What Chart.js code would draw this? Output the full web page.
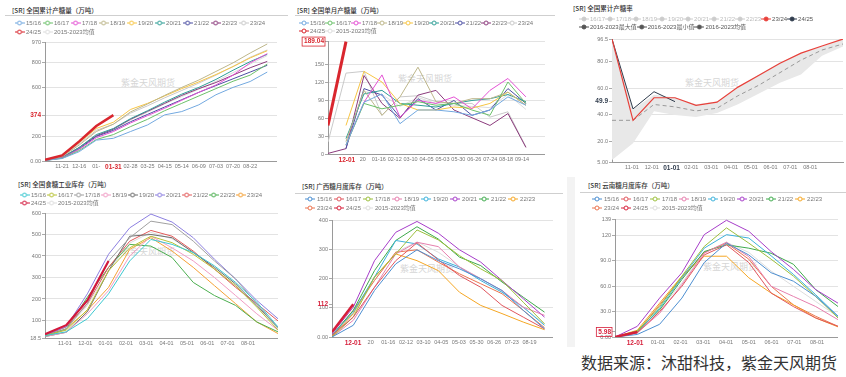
<!DOCTYPE html>
<html>
<head>
<meta charset="utf-8">
<script src="https://cdn.jsdelivr.net/npm/chart.js@4.4.1/dist/chart.umd.min.js"></script>
<style>
body{margin:0;width:846px;height:377px;position:relative;overflow:hidden;background:#fff;font-family:Arial,"Liberation Sans","Noto Sans CJK SC",sans-serif;}
.ttl{position:absolute;font-size:6.5px;line-height:8px;color:#333;white-space:nowrap;font-family:"Noto Sans CJK SC",sans-serif;font-weight:500;}
.rule{position:absolute;height:1px;background:#cfcfcf;}
.wm{position:absolute;font-size:9px;line-height:10px;color:#d6d6d6;white-space:nowrap;font-family:"Noto Sans CJK SC",sans-serif;}
.src{position:absolute;left:581px;top:352px;font-size:16px;line-height:20px;color:#333;white-space:nowrap;font-family:"Noto Sans CJK SC",sans-serif;}
canvas{position:absolute;}
</style>
</head>
<body>
<div class="ttl" style="left:12px;top:6px">[SR] 全国累计产糖量（万吨）</div>
<div class="rule" style="left:5px;top:15px;width:283px"></div>
<div class="ttl" style="left:297px;top:6px">[SR] 全国单月产糖量（万吨）</div>
<div class="rule" style="left:295px;top:15px;width:260px"></div>
<div class="ttl" style="left:573px;top:4px">[SR] 全国累计产糖率</div>
<div class="ttl" style="left:18px;top:180px">[SR] 全国食糖工业库存（万吨）</div>
<div class="ttl" style="left:302px;top:182px">[SR] 广西糖月度库存（万吨）</div>
<div class="rule" style="left:295px;top:193px;width:268px"></div>
<div class="ttl" style="left:588px;top:181px">[SR] 云南糖月度库存（万吨）</div>
<div class="rule" style="left:580px;top:192px;width:266px"></div>
<div style="position:absolute;left:567px;top:177px;width:8px;height:170px;background:#f3f3f3"></div>

<div class="wm" style="left:121px;top:78px">紫金天风期货</div>
<div class="wm" style="left:398px;top:74px">紫金天风期货</div>
<div class="wm" style="left:685px;top:78px">紫金天风期货</div>
<div class="wm" style="left:121px;top:247px">紫金天风期货</div>
<div class="wm" style="left:400px;top:264px">紫金天风期货</div>
<div class="wm" style="left:703px;top:262px">紫金天风期货</div>
<div class="src">数据来源：沐甜科技，紫金天风期货</div>

<script>
// ---- 数据 ----
const seasons = ['15/16','16/17','17/18','18/19','19/20','20/21','21/22','22/23','23/24','24/25','2015-2023均值'];
const rateSeasons = ['16/17','17/18','18/19','19/20','20/21','21/22','22/23','23/24','24/25','2016-2023最大值','2016-2023最小值','2016-2023均值'];

// 全国累计产糖量
const cumDates = ['11-21','12-16','01-','01-31','02-28','03-25','04-15','05-14','06-09','07-03','07-20','08-22'];
const cumYTicks = [0,200,600,800,970];
const cumYLabels = ['0.00','200','600','800','970'];
const cumProd = [
[5,20,76,170,185,240,294,376,403,458,540,600,648,725],
[5,22,85,175,215,280,340,410,470,530,590,650,700,790],
[5,25,95,190,240,310,370,430,495,560,620,700,800,875],
[5,35,130,240,300,400,465,535,600,660,730,800,880,954],
[8,45,150,265,316,420,470,530,590,645,705,770,840,899],
[5,30,110,215,265,345,410,480,545,600,665,740,810,870],
[5,25,100,200,250,320,380,440,500,560,615,670,725,780],
[5,28,110,205,260,340,405,470,535,590,640,700,760,812],
[5,40,140,250,300,390,450,515,575,635,700,770,845,905],
[10,45,160,285,374],
[5,30,112,210,258,335,398,465,525,585,650,720,790,860]
];

// 全国单月产糖量
const monDates = ['12-01','20','01-16','02-12','03-10','04-05','05-03','05-30','06-26','07-24','08-18','09-14'];
const monYTicks = [0,30,60,90,120,150];
const monYLabels = ['0','30','60','90','120','150'];
const monProd = [
[null,15,87,101,51,74,74,71,65,74,96,82],
[null,15,85,76,82,88,82,85,74,65,121,85],
[null,15,87,133,62,90,85,96,76,107,127,96],
[null,21,107,65,96,146,88,85,93,93,104,82],
[null,48,139,121,85,74,74,79,77,85,104,82],
[null,26,101,107,85,82,79,85,90,93,100,88],
[null,9,110,99,62,93,74,90,65,74,110,85],
[1,9,132,85,60,99,107,74,61,48,68,11],
[20,136,139,65,96,98,88,85,85,62,71,12],
[48,189.04],
[null,20,105,100,80,95,85,82,80,78,100,75]
];

// 全国累计产糖率
const rateDates = ['11-01','12-01','01-01','02-01','03-01','04-01','05-01','06-01','07-01','08-01'];
const rateYTicks = [5,20,40,60,80,96.5];
const rateYLabels = ['5.00','20.0','40.0','60.0','80.0','96.5'];
const rate2324 = [96.5,36,52.8,52.8,47.2,49.5,60.7,69.6,78.5,86,91.3,96.5];
const rate2425 = [96.5,44.5,57.3,49.9];
const rateMax = [96.5,44,55,53,48,50,60,70,79,86,91,96.5];
const rateMin = [6.5,19,42.7,40,38.5,41.5,48,56,64,70,84,91];
const rateMean = [36,36,47.8,46,43,45,54.3,62.2,71.5,80.8,88.3,92.8];

// 全国食糖工业库存
const stockDates = ['11-01','12-01','01-01','02-01','03-01','04-01','05-01','06-01','07-01','08-01'];
const stockYTicks = [18.5,100,200,300,400,500,600];
const stockYLabels = ['18.5','100','200','300','400','500','600'];
const stock = [
[30,47,108,224,377,477,454,416,354,277,185,70],
[30,55,150,331,438,492,462,408,339,262,162,55],
[25,60,180,377,485,562,546,469,377,293,178,62],
[25,45,131,239,400,492,438,377,300,216,131,55],
[25,45,140,331,492,500,485,416,347,270,170,67],
[32,70,224,408,531,595,558,485,385,293,193,108],
[30,70,178,347,469,519,492,423,339,254,178,98],
[30,60,208,347,454,446,393,277,216,170,93,47],
[25,62,147,254,431,485,423,347,262,178,93,39],
[36,78,193,377],
[28,60,170,330,460,510,480,420,340,258,165,65]
];

// 广西糖月度库存
const gxDates = ['12-01','20','01-16','02-12','03-10','04-05','05-03','05-30','06-26','07-23','08-19'];
const gxYTicks = [0,100,200,300,400];
const gxYLabels = ['0.00','100','200','300','400'];
const gxStock = [
[0,40,159,250,298,261,233,199,159,91,28],
[6,68,170,261,322,264,210,170,108,68,28],
[0,68,205,284,366,332,278,233,193,119,45],
[0,57,170,284,324,309,239,199,159,102,74],
[6,85,205,330,318,267,239,193,153,102,40],
[11,102,261,358,395,355,298,256,193,131,68],
[6,91,227,330,377,335,273,244,188,136,85],
[2,80,205,284,261,227,153,108,80,51,25],
[2,91,193,290,298,256,216,182,148,91,32],
[17,112],
[3,75,195,290,325,290,240,200,155,100,45]
];

// 云南糖月度库存
const ynDates = ['12-01','01-01','02-01','03-01','04-01','05-01','06-01','07-01','08-01'];
const ynYTicks = [0,30,60,90,120,139.5];
const ynYLabels = ['0.00','30.0','60.0','90.0','120','139'];
const ynStock = [
[0,3,15,46,88,111,97,76,66,48,24.5],
[0,5,30,60,97,109,88,52,36,22.5,12.6],
[0,7,36,72,107,129,111,92,72,48,22.5],
[0,5,28,62,99,112,95,60,48,36,20.5],
[0,5,34,70,105,121,117,96,74,50,24.5],
[0,12.6,46,76,121,138,125,101,80,56,40],
[0,7,32,68,101,109,105,99,86,56,36],
[0,8,40,72,95.5,95.5,70,52,38,22.5,12],
[0,6,38,70,100,111,92,60,38,24.5,12.6],
[0,5.98],
[0,6,32,64,100,112,100,78,60,42,24]
];

const colA = ['#73A9E0','#6CC16A','#E452D4','#BDB68A','#F7C544','#2E9E96','#4C4FA3','#8B3A7C','#C9C9C9','#D9262E','#DDDDDD'];
const colB = ['#3CC8D0','#B8C236','#A0A0A0','#F09CC4','#6E6E6E','#8C7FE0','#E25A5A','#4CAF50','#F5A136','#D3183C','#DDDDDD'];
const colC = ['#4D8FD1','#E0565E','#9CBF3C','#E67FAE','#3DB2DB','#A63DC9','#3FAA4C','#F5A623','#EB7550','#D61F3A','#DDDDDD'];

Chart.defaults.animation = false;
Chart.defaults.font.family = 'Arial, "Liberation Sans", "Noto Sans CJK SC", sans-serif';

function icon(color, filled){
  const c = document.createElement('canvas');
  c.width = 10; c.height = 6;
  const g = c.getContext('2d');
  g.strokeStyle = color; g.lineWidth = 1;
  g.beginPath(); g.moveTo(0,3); g.lineTo(10,3); g.stroke();
  g.beginPath(); g.arc(5,3,2,0,Math.PI*2);
  g.fillStyle = filled ? color : '#fff';
  g.fill(); g.stroke();
  return c;
}

function makeChart(p){
  const cv = document.createElement('canvas');
  cv.width = p.w; cv.height = p.h;
  cv.style.left = p.x+'px'; cv.style.top = p.y+'px';
  cv.style.width = p.w+'px'; cv.style.height = p.h+'px';
  document.body.appendChild(cv);

  const yVals = p.yTicks.slice(), yLabs = p.yLabels.slice();
  let hlIdx = -1;
  if(p.hl != null){ yVals.push(p.hl); yLabs.push(p.hlText); hlIdx = yVals.length-1; }

  const datasets = p.names.map(function(name,k){
    const col = p.colors[k];
    const vals = p.rows[k] || [];
    const d = {
      label:name,
      data: vals.map((v,i)=>({x:i,y:v})),
      borderColor:col, backgroundColor:col, borderWidth:1,
      pointRadius:0, pointHoverRadius:0,
      pointStyle: icon(p.iconColors ? p.iconColors[k] : col, p.filled),
      tension:0, fill:false
    };
    if(k === p.thick){ d.borderWidth = p.thickW || 2.5; d.order = -1; }
    return d;
  });
  if(p.extend) p.extend(datasets);

  const gapPlugin = {
    id:'legendGap',
    beforeInit(chart){
      const fit = chart.legend.fit;
      chart.legend.fit = function(){ fit.call(this); this.height += p.gap; };
    }
  };
  const boxPlugin = {
    id:'hlBox',
    afterDraw(chart){
      if(!p.hlBox) return;
      const ctx = chart.ctx, ys = chart.scales.y;
      const y = ys.getPixelForValue(p.hl);
      ctx.save();
      ctx.font = 'bold 6.5px Arial';
      const tw = ctx.measureText(p.hlText).width;
      const right = chart.chartArea.left - 3;
      ctx.strokeStyle = p.hlColor; ctx.lineWidth = 0.8;
      ctx.strokeRect(right - tw - 3, y - 4.5, tw + 3, 9);
      ctx.restore();
    }
  };

  return new Chart(cv,{
    type:'line',
    data:{datasets:datasets},
    options:{
      responsive:false,
      devicePixelRatio:1,
      events:[],
      layout:{padding:{top:2,left:0,right:p.padR||0,bottom:0}},
      plugins:{
        tooltip:{enabled:false},
        legend:{
          position:'top', align:'start',
          labels:{
            usePointStyle:true, pointStyleWidth:p.pw, boxHeight:6,
            padding:p.lp, font:{size:6}, color:'#777',
            sort:(a,b)=>a.datasetIndex-b.datasetIndex,
            generateLabels:function(ch){
              return Chart.defaults.plugins.legend.labels.generateLabels(ch).map(function(it){
                it.fontColor = p.legendColors ? p.legendColors[it.datasetIndex] : '#777';
                return it;
              });
            }
          }
        }
      },
      scales:{
        x:{
          type:'linear', min:0, max:p.xMax,
          afterBuildTicks:function(s){ s.ticks = p.xLabels.map((l,k)=>({value:p.t0 + k*p.dt})); },
          afterFit:function(s){ s.height = 10; },
          ticks:{
            autoSkip:false, maxRotation:0, padding:2,
            callback:(v,i)=>p.xLabels[i],
            font:c=> c.index===p.xHl ? {size:6.5,weight:'bold'} : {size:5.5},
            color:c=> c.index===p.xHl ? p.xHlColor : '#777'
          },
          grid:{display:false, drawTicks:false},
          border:{color:'#9a9a9a'}
        },
        y:{
          min:p.yMin, max:p.yMax,
          afterBuildTicks:function(s){ s.ticks = yVals.map(v=>({value:v})); },
          afterFit:function(s){ s.width = p.yW; },
          ticks:{
            autoSkip:false, padding:1,
            callback:(v,i)=>yLabs[i],
            font:c=> c.index===hlIdx ? {size:6.5,weight:'bold'} : {size:5.5},
            color:c=> c.index===hlIdx ? p.hlColor : '#777'
          },
          grid:{
            color:c=> (c.index===hlIdx && !p.hlGrid) ? 'rgba(0,0,0,0)' : '#e3e3e3',
            tickLength:3, tickColor:'#aaa'
          },
          border:{color:'#9a9a9a'}
        }
      }
    },
    plugins:[gapPlugin, boxPlugin]
  });
}

// 全国累计产糖量
makeChart({x:13,y:15,w:264,h:156,gap:-3,lp:3,pw:7,yW:32,
  names:seasons,rows:cumProd,colors:colA,thick:9,
  xMax:13.57,t0:1,dt:1,xLabels:cumDates,xHl:3,xHlColor:'#D9262E',
  yMin:0,yMax:970,yTicks:cumYTicks,yLabels:cumYLabels,hl:374,hlText:'374',hlColor:'#D9262E',hlGrid:true});

// 全国单月产糖量
makeChart({x:299,y:16,w:246,h:148,gap:-3,lp:2,pw:6,yW:29,
  names:seasons,rows:monProd,colors:colA,thick:9,thickW:3,
  xMax:12.06,t0:1.05,dt:0.885,xLabels:monDates,xHl:0,xHlColor:'#D9262E',
  yMin:0,yMax:190,yTicks:monYTicks,yLabels:monYLabels,hl:189.04,hlText:'189.04',hlColor:'#D9262E',hlGrid:true,hlBox:true});

// 全国累计产糖率
const rateRows = [[],[],[],[],[],[],[],rate2324,rate2425,rateMax,rateMin,rateMean];
makeChart({x:579,y:12,w:267,h:160,padR:3,gap:-1,lp:2,pw:6,yW:33,filled:true,
  names:rateSeasons,rows:rateRows,
  colors:['#cfcfcf','#cfcfcf','#cfcfcf','#cfcfcf','#cfcfcf','#cfcfcf','#cfcfcf','#E8403A','#2F3B4C','#e6e6e6','#e6e6e6','#9a9a9a'],
  iconColors:['#cccccc','#cccccc','#cccccc','#cccccc','#cccccc','#cccccc','#cccccc','#E8403A','#2F3B4C','#555555','#555555','#555555'],
  legendColors:['#bbb','#bbb','#bbb','#bbb','#bbb','#bbb','#bbb','#555','#555','#555','#555','#555'],
  extend:function(ds){
    ds[7].borderWidth = 1.2; ds[7].order = -3;
    ds[8].borderWidth = 1; ds[8].order = -2;
    ds[9].borderWidth = 0; ds[9].borderColor = 'rgba(0,0,0,0)'; ds[9].fill = '+1'; ds[9].backgroundColor = '#e8e8e8';
    ds[10].borderWidth = 0; ds[10].borderColor = 'rgba(0,0,0,0)';
    ds[11].borderDash = [4,3]; ds[11].order = -1;
  },
  xMax:11,t0:0.95,dt:0.943,xLabels:rateDates,xHl:2,xHlColor:'#2F3B4C',
  yMin:5,yMax:96.5,yTicks:rateYTicks,yLabels:rateYLabels,hl:49.9,hlText:'49.9',hlColor:'#2F3B4C',hlGrid:false});

// 全国食糖工业库存
makeChart({x:19,y:188,w:259,h:160,gap:-3,lp:2,pw:7,yW:26,
  names:seasons,rows:stock,colors:colB,thick:9,thickW:2.2,
  xMax:11,t0:0.94,dt:0.96,xLabels:stockDates,xHl:-1,
  yMin:18.5,yMax:600,yTicks:stockYTicks,yLabels:stockYLabels});

// 广西糖月度库存
makeChart({x:303,y:191,w:250,h:156,gap:-1,lp:3,pw:8,yW:29,
  names:seasons,rows:gxStock,colors:colC,thick:9,
  xMax:10.4,t0:0.99,dt:0.83,xLabels:gxDates,xHl:0,xHlColor:'#D61F3A',
  yMin:0,yMax:400,yTicks:gxYTicks,yLabels:gxYLabels,hl:112,hlText:'112',hlColor:'#D61F3A',hlGrid:false});

// 云南糖月度库存
makeChart({x:590,y:191,w:248,h:156,gap:-2,lp:3,pw:8,yW:25,
  names:seasons,rows:ynStock,colors:colC,thick:9,
  xMax:10,t0:0.9,dt:1.02,xLabels:ynDates,xHl:0,xHlColor:'#D61F3A',
  yMin:0,yMax:139.5,yTicks:ynYTicks,yLabels:ynYLabels,hl:5.98,hlText:'5.98',hlColor:'#D61F3A',hlGrid:false,hlBox:true});
</script>
</body>
</html>
